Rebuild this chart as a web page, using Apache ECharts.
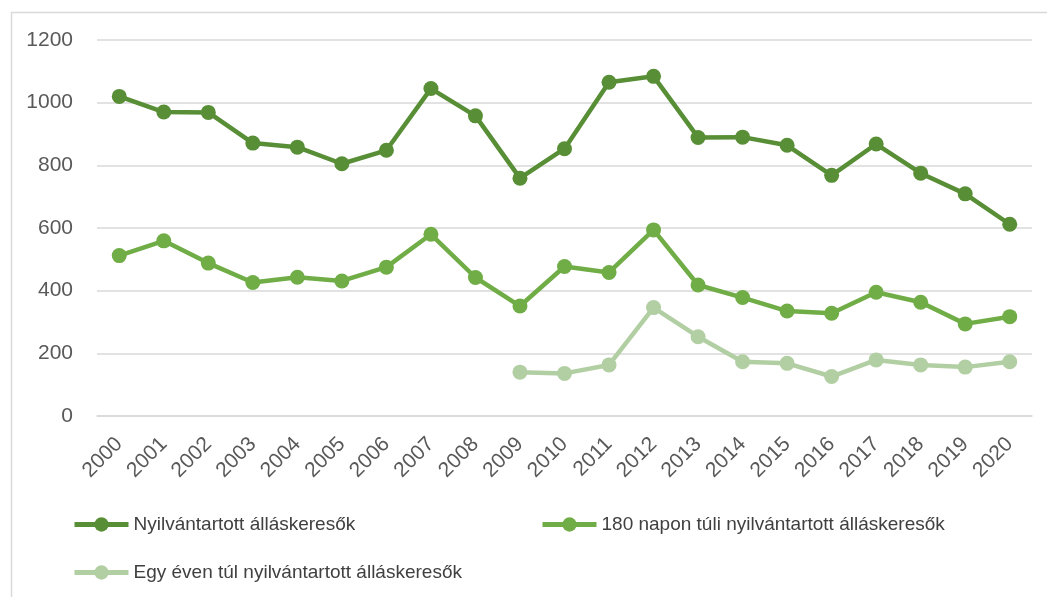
<!DOCTYPE html>
<html>
<head>
<meta charset="utf-8">
<script src="https://cdn.jsdelivr.net/npm/echarts@6/dist/echarts.min.js"></script>
<style>
  html, body { margin: 0; padding: 0; background: #fff; }
  #main { width: 1047px; height: 597px; }
</style>
</head>
<body>
<div id="main"></div>
<script>
var years = ['2000', '2001', '2002', '2003', '2004', '2005', '2006', '2007', '2008', '2009', '2010',
    '2011', '2012', '2013', '2014', '2015', '2016', '2017', '2018', '2019', '2020'];
var yTicks = [0, 200, 400, 600, 800, 1000, 1200];

var nyilvantartott = [1020, 970, 969, 871, 858, 805, 848, 1045, 958, 759, 853,
    1065, 1084, 889, 890, 864, 768, 868, 775, 709, 612];
var napon180 = [512, 559, 488, 426, 443, 431, 475, 580, 442, 351, 477,
    458, 594, 418, 378, 335, 328, 395, 363, 294, 317];
var egyEven = [null, null, null, null, null, null, null, null, null, 140, 136,
    163, 346, 253, 173, 168, 126, 179, 163, 156, 173];

var names = ['Nyilvántartott álláskeresők', '180 napon túli nyilvántartott álláskeresők',
    'Egy éven túl nyilvántartott álláskeresők'];
var colors = ['#588E36', '#70AD47', '#B2CFA3'];

function makeSeries(name, data, color) {
    return {
        name: name,
        type: 'line',
        data: data,
        symbol: 'circle',
        symbolSize: 15,
        color: color,
        lineStyle: { width: 4.5, color: color },
        itemStyle: { color: color },
        connectNulls: false,
        animation: false
    };
}

var fontFam = '"Liberation Sans", Arial, sans-serif';

function legendAt(name, left, top) {
    return {
        data: [name],
        left: left,
        top: top,
        padding: 0,
        itemWidth: 54,
        itemHeight: 18,
        itemGap: 0,
        lineStyle: { width: 5 },
        textStyle: { fontSize: 19, color: '#404040', fontFamily: fontFam }
    };
}

var chart = echarts.init(document.getElementById('main'));
chart.setOption({
    animation: false,
    graphic: [{
        type: 'rect',
        left: 9, top: 10,
        shape: { width: 1060, height: 620 },
        style: { fill: 'none', stroke: '#d9d9d9', lineWidth: 1.5 },
        silent: true
    }],
    grid: {
        left: 97,
        right: 15,
        top: 40,
        bottom: 181
    },
    legend: [
        legendAt(names[0], 72, 515),
        legendAt(names[1], 540, 515),
        legendAt(names[2], 72, 563)
    ],
    xAxis: {
        type: 'category',
        data: years,
        boundaryGap: true,
        axisLine: { lineStyle: { color: '#d9d9d9', width: 1.5 } },
        axisTick: { show: false },
        axisLabel: {
            rotate: 45,
            margin: 25,
            fontSize: 21,
            color: '#595959',
            fontFamily: fontFam,
            interval: 0
        }
    },
    yAxis: {
        type: 'value',
        min: yTicks[0],
        max: yTicks[yTicks.length - 1],
        interval: 200,
        axisLine: { show: false },
        axisTick: { show: false },
        axisLabel: {
            margin: 24,
            fontSize: 21,
            color: '#595959',
            fontFamily: fontFam,
            formatter: function (v) { return String(v); }
        },
        splitLine: { lineStyle: { color: '#d9d9d9', width: 1.5 } }
    },
    series: [
        makeSeries(names[0], nyilvantartott, colors[0]),
        makeSeries(names[1], napon180, colors[1]),
        makeSeries(names[2], egyEven, colors[2])
    ]
});
</script>
</body>
</html>
